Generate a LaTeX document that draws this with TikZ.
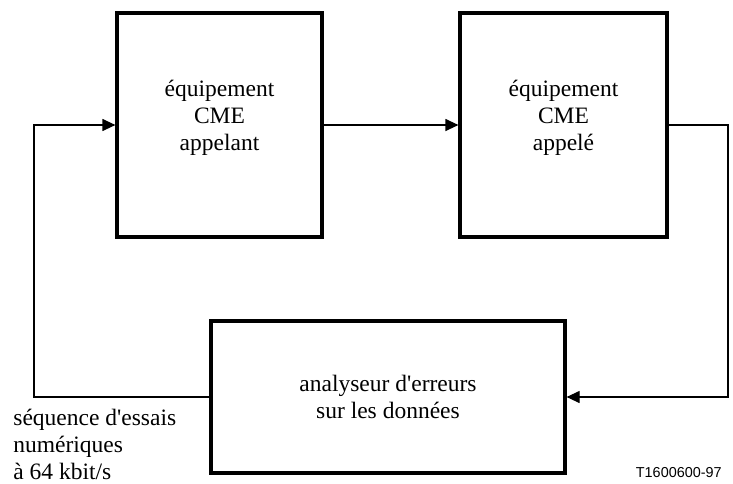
\documentclass[tikz,border=0pt]{standalone}
\usepackage{fontspec}
\setmainfont{Liberation Serif}
\newfontfamily\tagfont{Liberation Sans}
\usetikzlibrary{arrows.meta}

\tikzset{
  blockbox/.style={draw, line width=1.6pt, inner sep=0pt},
  conn/.style={line width=0.6pt},
  arr/.style={conn, -{Triangle[length=6.5pt,width=6pt]}},
  txt/.style={align=center, inner sep=0pt, font=\fontsize{11.75}{13.4}\selectfont}
}

\begin{document}
\begin{tikzpicture}[x=0.5pt,y=-0.5pt]
            \useasboundingbox (0,0) rectangle (733,483);
            % the three blocks
            \node[blockbox, minimum width=102.5pt, minimum height=112pt] (appelant) at (219.5,125) {};
            \node[blockbox, minimum width=103.5pt, minimum height=112pt] (appele) at (563.5,125) {};
            \node[blockbox, minimum width=177pt, minimum height=76pt] (analyseur) at (388,397) {};
            \node[txt] (tappelant) at ([yshift=3.5pt]appelant.center) {équipement\\CME\\appelant};
            \node[txt] (tappele) at ([yshift=3.5pt]appele.center) {équipement\\CME\\appelé};
            \node[txt] (tanalyseur) at (analyseur.center) {analyseur d\textquotesingle erreurs\\sur les données};
            % corners of the loop
            \coordinate (lc) at (34,397);
            \coordinate (rc) at (728,125);
            \draw[arr] (appelant.east) -- (appele.west);
            \draw[arr] (appele.east) -- (rc) |- (analyseur.east);
            \draw[arr] (analyseur.west) -- (lc) |- (appelant.west);
            % texts
            \node[txt, align=left, anchor=north west] (seq) at (13,409) {séquence d\textquotesingle essais\\numériques\\à 64 kbit/s};
            \node[inner sep=0pt, anchor=base east, font=\tagfont\fontsize{7.2}{8}\selectfont] (ref) at (722,477) {T1600600-97};
\end{tikzpicture}
\end{document}
